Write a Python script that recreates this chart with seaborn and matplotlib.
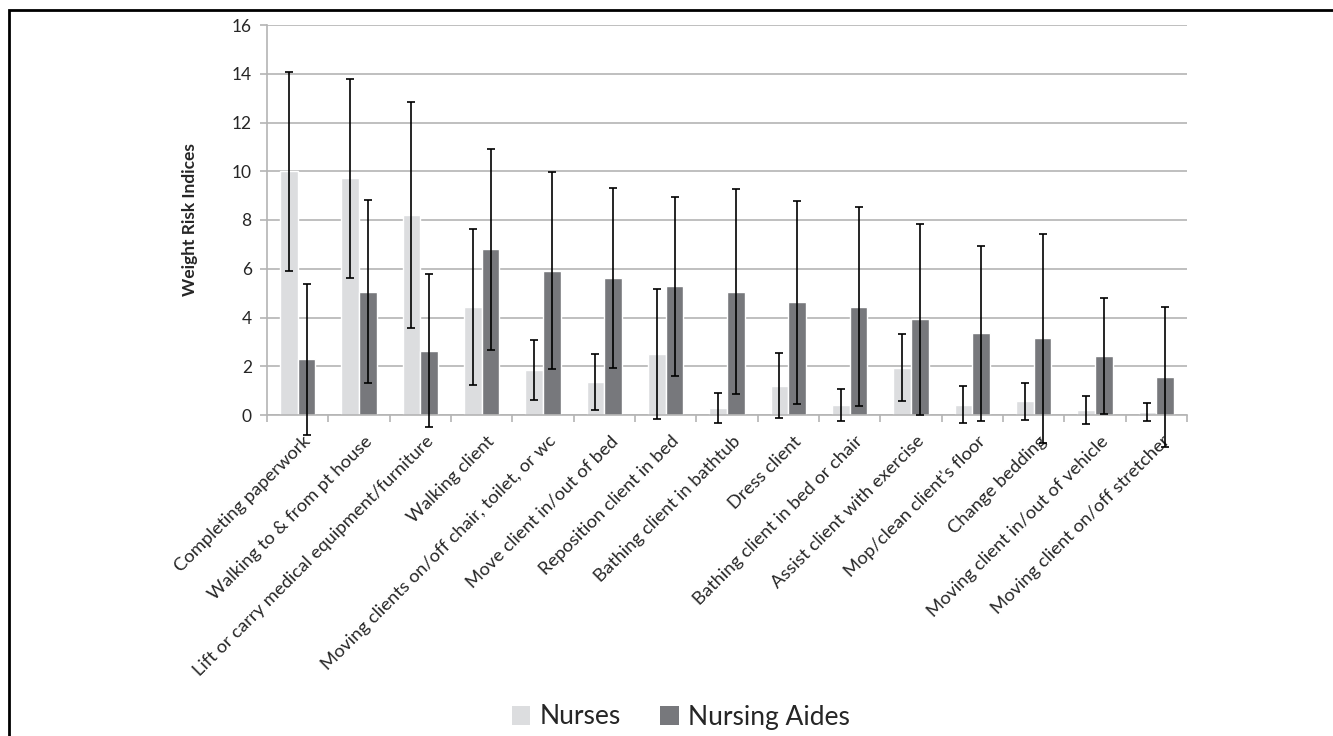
import numpy as np
import pandas as pd
import matplotlib
matplotlib.use("Agg")
import matplotlib.pyplot as plt
import matplotlib.transforms as mtransforms
import seaborn as sns
from matplotlib.patches import Rectangle

# Tasks and weight-risk index means / standard deviations per group
tasks = [
    "Completing paperwork",
    "Walking to & from pt house",
    "Lift or carry medical equipment/furniture",
    "Walking client",
    "Moving clients on/off chair, toilet, or wc",
    "Move client in/out of bed",
    "Reposition client in bed",
    "Bathing client in bathtub",
    "Dress client",
    "Bathing client in bed or chair",
    "Assist client with exercise",
    "Mop/clean client's floor",
    "Change bedding",
    "Moving client in/out of vehicle",
    "Moving client on/off stretcher",
]
nurses_mean = [9.99, 9.71, 8.21, 4.44, 1.86, 1.37, 2.50, 0.29, 1.21, 0.42, 1.94, 0.42, 0.57, 0.21, 0.14]
nurses_sd = [4.07, 4.07, 4.65, 3.20, 1.23, 1.15, 2.65, 0.62, 1.32, 0.66, 1.37, 0.76, 0.76, 0.57, 0.37]
aides_mean = [2.28, 5.06, 2.63, 6.80, 5.92, 5.63, 5.28, 5.06, 4.63, 4.44, 3.92, 3.35, 3.15, 2.42, 1.55]
aides_sd = [3.10, 3.74, 3.14, 4.12, 4.04, 3.70, 3.67, 4.20, 4.16, 4.08, 3.93, 3.59, 4.28, 2.36, 2.88]
groups = ["Nurses", "Nursing Aides"]
colors = ["#dcdddf", "#77787c"]

df = pd.DataFrame({
    "task": tasks * 2,
    "group": [groups[0]] * len(tasks) + [groups[1]] * len(tasks),
    "value": nurses_mean + aides_mean,
    "sd": nurses_sd + aides_sd,
})

sns.set_theme(style="white")
plt.rcParams["font.family"] = ["Lato", "DejaVu Sans"]

fig = plt.figure(figsize=(13.33, 7.36), dpi=100)
ax = fig.add_axes([267 / 1333, 1 - 415 / 736, 920 / 1333, 390 / 736])

sns.barplot(data=df, x="task", y="value", hue="group", hue_order=groups,
            palette=colors, width=0.58, gap=0, errorbar=None,
            saturation=1, ax=ax, legend=True, zorder=2)

# symmetric standard-deviation whiskers on each bar
for cont, g in zip(ax.containers, groups):
    sub = df[df["group"] == g]
    xs = [p.get_x() + p.get_width() / 2 for p in cont.patches]
    ax.errorbar(xs, sub["value"].values, yerr=sub["sd"].values, fmt="none",
                ecolor="black", elinewidth=1.2, capsize=3.2, capthick=1.2,
                zorder=4, clip_on=False)

ax.set_ylim(0, 16)
ax.set_xlim(-0.5, len(tasks) - 0.5)
ax.set_yticks(np.arange(0, 17, 2))
ax.yaxis.grid(True, color="#b4b4b4", linewidth=1.2, zorder=0)
ax.set_axisbelow(True)
for s in ["top", "right"]:
    ax.spines[s].set_visible(False)
for s in ["left", "bottom"]:
    ax.spines[s].set_color("#b4b4b4")
    ax.spines[s].set_linewidth(1.2)

ax.tick_params(axis="y", which="major", left=True, length=5, width=1.2,
               color="#b4b4b4", labelsize=12.5, pad=6)
ax.set_xticks(np.arange(len(tasks)))
ax.set_xticklabels(tasks, rotation=45, ha="right", rotation_mode="anchor",
                   fontsize=13.2)
ax.tick_params(axis="x", which="major", bottom=False, length=0, pad=13)
ax.set_xticks(np.arange(-0.5, len(tasks)), minor=True)
ax.tick_params(axis="x", which="minor", bottom=True, length=5, width=1.2,
               color="#b4b4b4")
shift = mtransforms.ScaledTranslation(5 / 100, 0, fig.dpi_scale_trans)
for lbl in ax.get_xticklabels():
    lbl.set_transform(lbl.get_transform() + shift)

ax.set_xlabel("")
ax.set_ylabel("Weight Risk Indices", fontsize=12.5, fontweight="bold", labelpad=24)

leg = ax.legend(loc="center", bbox_to_anchor=(681 / 1333, 1 - 717 / 736),
                bbox_transform=fig.transFigure, ncol=2, frameon=False,
                fontsize=19, handlelength=0.7, handleheight=0.7,
                handletextpad=0.35, columnspacing=1.5, borderaxespad=0)
for h in leg.legend_handles:
    h.set_edgecolor("none")

# frame around the whole figure
fig.patches.append(Rectangle((8.5 / 1333, -0.05), 1.2, 1 - 9.5 / 736 + 0.05,
                             transform=fig.transFigure, fill=False,
                             edgecolor="black", linewidth=2, zorder=10))

fig.savefig("out.png", dpi=100)
